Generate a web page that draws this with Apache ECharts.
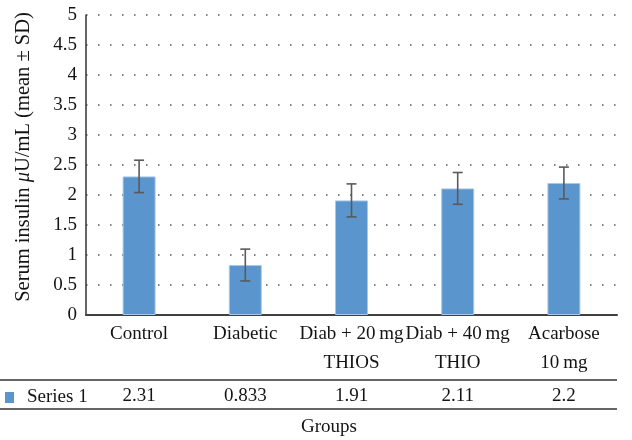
<!DOCTYPE html>
<html>
<head>
<meta charset="utf-8">
<script src="https://cdn.jsdelivr.net/npm/echarts@6/dist/echarts.min.js"></script>
<style>html,body{margin:0;padding:0;background:#fff}#c{width:632px;height:440px}</style>
</head>
<body>
<div id="c"></div>
<script>
const categories = ['Control', 'Diabetic', 'Diab + 20\u2009mg\nTHIOS', 'Diab + 40\u2009mg\nTHIO', 'Acarbose\n10\u2009mg'];
const seriesName = 'Series 1';
const values = [2.31, 0.833, 1.91, 2.11, 2.2];
const sd = [0.27, 0.265, 0.275, 0.265, 0.265];
const yTicks = { min: 0, max: 5, interval: 0.5 };

const FONT = 'Liberation Serif';
const FS = 19;
const TXT = '#141414';
const chart = echarts.init(document.getElementById('c'));
chart.setOption({
  animation: false,
  backgroundColor: '#fff',
  grid: { left: 86, right: 15, top: 15, bottom: 125 },
  legend: {
    show: true, left: 0, top: 383, icon: 'rect', itemWidth: 9, itemHeight: 11,
    data: [seriesName],
    itemStyle: { borderWidth: 0 },
    textStyle: { fontFamily: FONT, fontSize: FS, color: TXT, padding: [0, 0, 0, 8] }
  },
  xAxis: [{
    type: 'category', data: categories, gridIndex: 0, position: 'bottom',
    axisLine: { lineStyle: { color: '#404040', width: 2 } },
    axisTick: { show: false },
    axisLabel: { interval: 0, margin: 5, lineHeight: 29, fontFamily: FONT, fontSize: FS, color: TXT }
  }, {
    type: 'category', data: categories, gridIndex: 0, position: 'bottom',
    axisLine: { show: false }, axisTick: { show: false },
    axisLabel: { interval: 0, margin: 71, lineHeight: 20, fontFamily: FONT, fontSize: FS, color: TXT,
      formatter: (v, i) => String(values[i]) }
  }],
  yAxis: {
    type: 'value', min: yTicks.min, max: yTicks.max, interval: yTicks.interval,
    axisLine: { show: true, lineStyle: { color: '#333', width: 1.5 } },
    axisTick: { show: false },
    axisLabel: { margin: 9, fontFamily: FONT, fontSize: FS, color: TXT },
    splitLine: { show: true, lineStyle: { color: '#555', width: 1.5, type: [1.5, 10.5] } },
    name: '{a|Serum insulin }{i|μ}{a|U/mL (mean ± SD)}',
    nameLocation: 'middle', nameGap: 52, nameRotate: 90,
    nameTextStyle: { padding: [0, 0, 0, 16], rich: {
      a: { fontFamily: FONT, fontSize: 20.5, color: TXT },
      i: { fontFamily: FONT, fontSize: 20.5, fontStyle: 'italic', color: TXT }
    } }
  },
  series: [{
    name: seriesName, type: 'bar', data: values, barWidth: 33,
    itemStyle: { color: '#5b95cd', borderColor: '#a9c8e8', borderWidth: 1 }
  }, {
    type: 'custom', name: 'err', silent: true,
    data: values.map((v, i) => [i, v - sd[i], v + sd[i]]),
    renderItem: function (params, api) {
      const x = api.value(0);
      const lo = api.coord([x, api.value(1)]);
      const hi = api.coord([x, api.value(2)]);
      const hw = 5;
      const st = { stroke: '#5a5a5a', lineWidth: 1.6 };
      return { type: 'group', children: [
        { type: 'line', shape: { x1: lo[0], y1: lo[1], x2: hi[0], y2: hi[1] }, style: st },
        { type: 'line', shape: { x1: hi[0] - hw, y1: hi[1], x2: hi[0] + hw, y2: hi[1] }, style: st },
        { type: 'line', shape: { x1: lo[0] - hw, y1: lo[1], x2: lo[0] + hw, y2: lo[1] }, style: st }
      ] };
    },
    z: 5
  }],
  graphic: [
    { type: 'line', shape: { x1: 0, y1: 380, x2: 617, y2: 380 }, style: { stroke: '#333', lineWidth: 1.5 } },
    { type: 'line', shape: { x1: 0, y1: 409, x2: 617, y2: 409 }, style: { stroke: '#333', lineWidth: 1.5 } },
    { type: 'text', x: 329, y: 427, style: { text: 'Groups', fontFamily: FONT, fontSize: FS, fill: TXT, align: 'center', verticalAlign: 'middle' } }
  ]
});
</script>
</body>
</html>
